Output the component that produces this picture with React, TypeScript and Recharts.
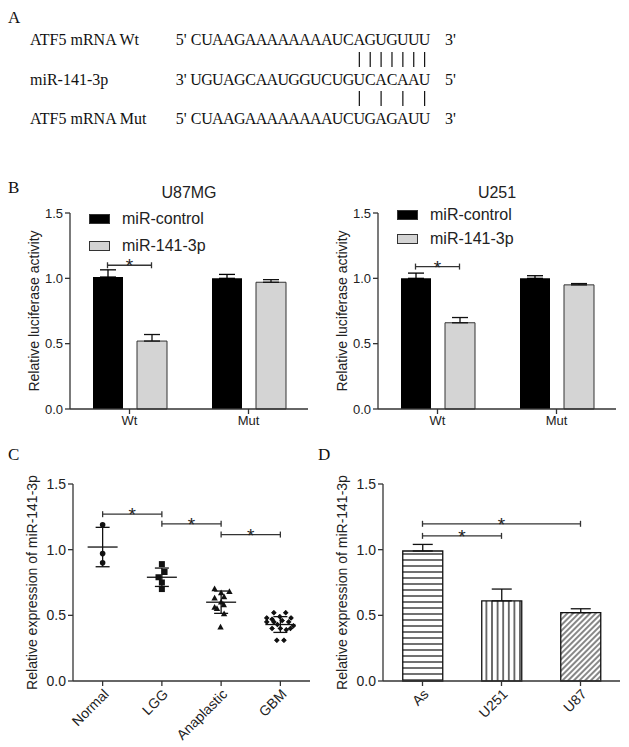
import React from 'react';
import {
  BarChart, Bar, XAxis, YAxis, ErrorBar, ReferenceLine, Legend, Cell,
  ScatterChart, Scatter,
} from 'recharts';

// ---- A: binding site
const SEQ_NAMES = ['ATF5 mRNA Wt', 'miR-141-3p', 'ATF5 mRNA Mut'];
const SEQ_ENDS = [["5'", "3'"], ["3'", "5'"], ["5'", "3'"]];
const SEQS = ['CUAAGAAAAAAAAUCAGUGUUU', 'UGUAGCAAUGGUCUGUCACAAU', 'CUAAGAAAAAAAAUCUGAGAUU'];
const WT_PAIRS = [15, 16, 17, 18, 19, 20, 21];
const MUT_PAIRS = [15, 17, 19, 21];

// ---- B: luciferase
const B_SITES = ['Wt', 'Mut'];
const U87_CTRL = [1.01, 1.0];
const U87_CTRL_ERR = [0.055, 0.03];
const U87_MIR = [0.52, 0.97];
const U87_MIR_ERR = [0.05, 0.02];
const U87_STAR_Y = 1.1;
const U251_CTRL = [1.0, 1.0];
const U251_CTRL_ERR = [0.04, 0.02];
const U251_MIR = [0.66, 0.95];
const U251_MIR_ERR = [0.04, 0.01];
const U251_STAR_Y = 1.09;

// ---- C: tissue expression
const C_GROUPS = ['Normal', 'LGG', 'Anaplastic', 'GBM'];
const C_MEAN = [1.02, 0.79, 0.6, 0.43];
const C_SD = [0.15, 0.07, 0.085, 0.06];
const NORMAL_VALS = [1.19, 0.97, 0.9];
const NORMAL_JIT = [0, 0, 0];
const LGG_VALS = [0.89, 0.83, 0.79, 0.75, 0.7];
const LGG_JIT = [0, 0.045, -0.057, 0, 0];
const ANA_VALS = [0.7, 0.68, 0.67, 0.63, 0.64, 0.6, 0.58, 0.56, 0.55, 0.51, 0.41];
const ANA_JIT = [-0.11, 0.14, 0.0, -0.11, 0.05, 0.0, 0.045, -0.11, -0.07, 0.05, -0.01];
const GBM_VALS = [0.52, 0.52, 0.48, 0.47, 0.49, 0.48, 0.45, 0.45, 0.46, 0.45, 0.42, 0.4, 0.4, 0.39, 0.4, 0.43, 0.31, 0.31];
const GBM_JIT = [-0.11, 0.09, -0.23, -0.14, -0.01, 0.18, -0.23, -0.11, 0.03, 0.14, 0.22, -0.14, 0.0, 0.1, 0.17, -0.05, -0.06, 0.06];
const C_BRACKETS = [[0, 1, 1.27], [1, 2, 1.197], [2, 3, 1.115]];

// ---- D: cell lines
const D_LINES = ['As', 'U251', 'U87'];
const D_VALS = [0.99, 0.61, 0.52];
const D_ERR = [0.05, 0.09, 0.03];
const D_FILLS = ['url(#hstripe)', 'url(#vstripe)', 'url(#dstripe)'];
const D_BRACKETS = [['As', 'U251', 1.105], ['As', 'U87', 1.197]];

const Y_TICKS = [0, 0.5, 1, 1.5];
const AX = '#333';
const TXT = '#222';

const serif = '"Liberation Serif", "Times New Roman", serif';
const sans = '"Liberation Sans", Arial, sans-serif';

const yLabel = (text: string, dx: number, size = 14) => (props: any) => {
  const vb = props.viewBox;
  const x = vb.x + dx;
  const y = vb.y + vb.height / 2;
  return (
    <text x={x} y={y} transform={`rotate(-90 ${x} ${y})`} textAnchor="middle"
      dominantBaseline="central" fontSize={size} fill={TXT} fontFamily={sans}>
      {text}
    </text>
  );
};

const bracket = (half: number) => (props: any) => {
  const { x1, x2, y1 } = props;
  const a = Math.min(x1, x2) - half;
  const b = Math.max(x1, x2) + half;
  return (
    <g>
      <line x1={a} x2={b} y1={y1} y2={y1} stroke={AX} strokeWidth={1.3} />
      <line x1={a} x2={a} y1={y1 - 3} y2={y1 + 3} stroke={AX} strokeWidth={1.3} />
      <line x1={b} x2={b} y1={y1 - 3} y2={y1 + 3} stroke={AX} strokeWidth={1.3} />
      <text x={(a + b) / 2} y={y1 + 7} textAnchor="middle" fontSize={19} fill={TXT} fontFamily={sans}>*</text>
    </g>
  );
};

function BindingSite() {
  const rowY = [45, 85, 124];
  const step = 10.88;
  const seqX = 190.7;
  const pipeRows = [
    { pairs: WT_PAIRS, y1: 52, y2: 67 },
    { pairs: MUT_PAIRS, y1: 91, y2: 106 },
  ];
  return (
    <svg width={629} height={135} style={{ position: 'absolute', left: 0, top: 0 }}>
      <text x={8} y={23} fontSize={17} fontFamily={serif} fill="#111">A</text>
      {SEQ_NAMES.map((name, r) => (
        <g key={name} fontFamily={serif} fontSize={16} fill="#111">
          <text x={30} y={rowY[r]}>{name}</text>
          <text x={175.7} y={rowY[r]}>{SEQ_ENDS[r][0]}</text>
          {SEQS[r].split('').map((ch, i) => (
            <text key={i} x={seqX + (i + 0.5) * step} y={rowY[r]} textAnchor="middle">{ch}</text>
          ))}
          <text x={445} y={rowY[r]}>{SEQ_ENDS[r][1]}</text>
        </g>
      ))}
      {pipeRows.map((p, k) => p.pairs.map((i) => (
        <line key={`${k}-${i}`} x1={seqX + (i + 0.5) * step} x2={seqX + (i + 0.5) * step}
          y1={p.y1} y2={p.y2} stroke="#111" strokeWidth={1.2} />
      )))}
    </svg>
  );
}

function LuciferaseChart({ left, title, ctrl, ctrlErr, mir, mirErr, starY, legendTop, legendGap }: any) {
  const data = B_SITES.map((site, i) => ({
    site, ctrl: ctrl[i], ctrlErr: [0, ctrlErr[i]], mir: mir[i], mirErr: [0, mirErr[i]],
  }));
  return (
    <div style={{ position: 'absolute', left, top: 180, width: 320, height: 260 }}>
      <div style={{ position: 'absolute', left: 70, width: 238, top: 4, lineHeight: '18px', textAlign: 'center', fontSize: 16, fontFamily: sans, color: TXT }}>
        {title}
      </div>
      <BarChart width={320} height={260} data={data} margin={{ top: 33, right: 12, left: 40, bottom: 6 }}
        barSize={30} barGap={14}>
        <XAxis dataKey="site" height={25} tickSize={5} stroke={AX} strokeWidth={1.3}
          tick={{ fontSize: 13, fill: TXT, fontFamily: sans }} />
        <YAxis domain={[0, 1.5]} ticks={Y_TICKS} width={30} tickSize={5} stroke={AX} strokeWidth={1.3}
          tickFormatter={(v: number) => v.toFixed(1)} tick={{ fontSize: 13, fill: TXT, fontFamily: sans }}
          label={yLabel('Relative luciferase activity', -6)} />
        <Legend layout="vertical" align="center" verticalAlign="middle" itemSorter="dataKey"
          wrapperStyle={{ left: 89, top: legendTop, width: 'auto' }}
          content={(p: any) => (
            <div>
              {(p.payload || []).map((e: any, i: number) => (
                <div key={i} style={{ display: 'flex', alignItems: 'center', height: 20, marginBottom: legendGap }}>
                  <span style={{ display: 'inline-block', width: 21, height: 10, background: e.color, border: '1px solid #333', boxSizing: 'border-box', marginRight: 12 }} />
                  <span style={{ fontSize: 16, fontFamily: sans, color: TXT }}>{e.value}</span>
                </div>
              ))}
            </div>
          )} />
        <Bar dataKey="ctrl" name="miR-control" fill="#000" isAnimationActive={false}>
          <ErrorBar dataKey="ctrlErr" width={8} stroke="#000" strokeWidth={1.3} />
        </Bar>
        <Bar dataKey="mir" name="miR-141-3p" fill="#d4d4d4" stroke="#333" strokeWidth={1} isAnimationActive={false}>
          <ErrorBar dataKey="mirErr" width={8} stroke="#111" strokeWidth={1.3} />
        </Bar>
        <ReferenceLine segment={[{ x: 'Wt', y: starY }, { x: 'Wt', y: starY }]} shape={bracket(22)} />
      </BarChart>
    </div>
  );
}

const dotShape = (kind: string) => (props: any) => {
  const { cx, cy } = props;
  if (kind === 'circle') return <circle cx={cx} cy={cy} r={2.8} fill="#111" />;
  if (kind === 'square') return <rect x={cx - 3} y={cy - 3} width={6} height={6} fill="#111" />;
  if (kind === 'triangle') return <polygon points={`${cx},${cy - 3.5} ${cx + 3.2},${cy + 2.3} ${cx - 3.2},${cy + 2.3}`} fill="#111" />;
  return (
    <g stroke="#111" strokeWidth={1}>
      <circle cx={cx} cy={cy} r={1.7} fill="#111" />
      <line x1={cx - 2.6} x2={cx + 2.6} y1={cy} y2={cy} />
      <line x1={cx} x2={cx} y1={cy - 2.6} y2={cy + 2.6} />
    </g>
  );
};

const meanShape = (props: any) => {
  const { cx, cy } = props;
  return <line x1={cx - 15} x2={cx + 15} y1={cy} y2={cy} stroke="#111" strokeWidth={1.3} />;
};

function TissueChart() {
  const groups = [
    { vals: NORMAL_VALS, jit: NORMAL_JIT, kind: 'circle' },
    { vals: LGG_VALS, jit: LGG_JIT, kind: 'square' },
    { vals: ANA_VALS, jit: ANA_JIT, kind: 'triangle' },
    { vals: GBM_VALS, jit: GBM_JIT, kind: 'star' },
  ];
  const means = C_MEAN.map((m, i) => ({ x: i + 0.5, y: m, sd: C_SD[i] }));
  return (
    <div style={{ position: 'absolute', left: 0, top: 455 }}>
      <ScatterChart width={320} height={292} margin={{ top: 29, right: 10, left: 43, bottom: 6 }}>
        <XAxis type="number" dataKey="x" domain={[0, 4]} ticks={[0.5, 1.5, 2.5, 3.5]} height={60}
          tickFormatter={(v: number) => C_GROUPS[Math.floor(v)]} angle={-45} textAnchor="end"
          tickSize={5} stroke={AX} strokeWidth={1.3} tick={{ fontSize: 14, fill: TXT, fontFamily: sans }} />
        <YAxis type="number" dataKey="y" domain={[0, 1.5]} ticks={Y_TICKS} width={30} tickSize={5}
          stroke={AX} strokeWidth={1.3} tickFormatter={(v: number) => v.toFixed(1)}
          tick={{ fontSize: 14, fill: TXT, fontFamily: sans }}
          label={yLabel('Relative expression of miR-141-3p', -11)} />
        {groups.map((g, gi) => (
          <Scatter key={gi} data={g.vals.map((v, i) => ({ x: gi + 0.5 + g.jit[i], y: v }))}
            shape={dotShape(g.kind)} isAnimationActive={false} />
        ))}
        <Scatter data={means} shape={meanShape} isAnimationActive={false}>
          <ErrorBar dataKey="sd" direction="y" width={7} stroke="#111" strokeWidth={1.3} />
        </Scatter>
        {C_BRACKETS.map(([a, b, y], i) => (
          <ReferenceLine key={i} segment={[{ x: a + 0.5, y }, { x: b + 0.5, y }]} shape={bracket(0)} />
        ))}
      </ScatterChart>
    </div>
  );
}

function CellLineChart() {
  const data = D_LINES.map((name, i) => ({ name, value: D_VALS[i], err: [0, D_ERR[i]] }));
  return (
    <div style={{ position: 'absolute', left: 310, top: 455 }}>
      <BarChart width={319} height={292} data={data} margin={{ top: 29, right: 9, left: 43, bottom: 6 }}
        barCategoryGap="25%">
        <defs>
          <pattern id="hstripe" patternUnits="userSpaceOnUse" width={8} height={6}>
            <rect width={8} height={6} fill="#fff" />
            <line x1={0} x2={8} y1={3} y2={3} stroke="#111" strokeWidth={1.2} />
          </pattern>
          <pattern id="vstripe" patternUnits="userSpaceOnUse" width={5.6} height={8}>
            <rect width={5.6} height={8} fill="#fff" />
            <line x1={2.8} x2={2.8} y1={0} y2={8} stroke="#111" strokeWidth={1.2} />
          </pattern>
          <pattern id="dstripe" patternUnits="userSpaceOnUse" width={4} height={4} patternTransform="rotate(45)">
            <rect width={4} height={4} fill="#fff" />
            <line x1={2} x2={2} y1={0} y2={4} stroke="#111" strokeWidth={1} />
          </pattern>
        </defs>
        <XAxis dataKey="name" height={60} angle={-45} textAnchor="end" tickSize={5} stroke={AX} strokeWidth={1.3}
          tick={{ fontSize: 14, fill: TXT, fontFamily: sans }} />
        <YAxis domain={[0, 1.5]} ticks={Y_TICKS} width={30} tickSize={5} stroke={AX} strokeWidth={1.3}
          tickFormatter={(v: number) => v.toFixed(1)} tick={{ fontSize: 14, fill: TXT, fontFamily: sans }}
          label={yLabel('Relative expression of miR-141-3p', -11)} />
        <Bar dataKey="value" stroke="#111" strokeWidth={1.3} isAnimationActive={false}>
          {data.map((d, i) => <Cell key={d.name} fill={D_FILLS[i]} />)}
          <ErrorBar dataKey="err" width={10} stroke="#111" strokeWidth={1.3} />
        </Bar>
        {D_BRACKETS.map(([a, b, y], i) => (
          <ReferenceLine key={i} segment={[{ x: a, y }, { x: b, y }]} shape={bracket(0)} />
        ))}
      </BarChart>
    </div>
  );
}

const letter = (ch: string, x: number, y: number) => (
  <div style={{ position: 'absolute', left: x, top: y - 10, lineHeight: '20px', fontSize: 17, fontFamily: serif, color: '#111' }}>{ch}</div>
);

export default function App() {
  return (
    <div style={{ position: 'absolute', left: 0, top: 0, width: 629, height: 747, background: '#fff', overflow: 'hidden' }}>
      <BindingSite />
      {letter('B', 8, 188)}
      {letter('C', 8, 455)}
      {letter('D', 318, 455)}
      <LuciferaseChart left={0} title="U87MG" ctrl={U87_CTRL} ctrlErr={U87_CTRL_ERR} mir={U87_MIR} mirErr={U87_MIR_ERR}
        starY={U87_STAR_Y} legendTop={28.8} legendGap={7.4} />
      <LuciferaseChart left={308} title="U251" ctrl={U251_CTRL} ctrlErr={U251_CTRL_ERR} mir={U251_MIR} mirErr={U251_MIR_ERR}
        starY={U251_STAR_Y} legendTop={25.3} legendGap={3.5} />
      <TissueChart />
      <CellLineChart />
    </div>
  );
}
